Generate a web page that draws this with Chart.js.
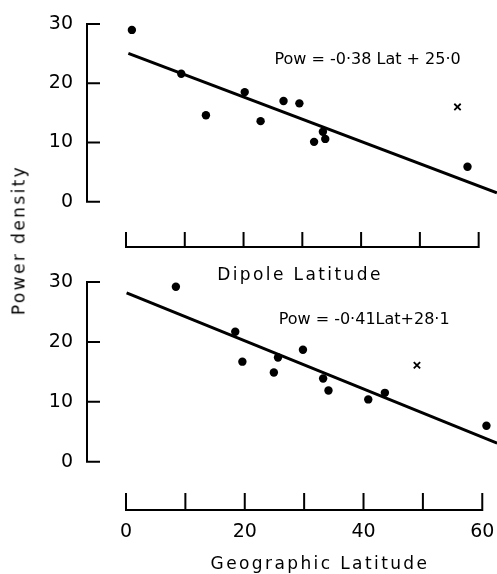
<!DOCTYPE html>
<html>
<head>
<meta charset="utf-8">
<script src="https://cdn.jsdelivr.net/npm/chart.js@4.4.1/dist/chart.umd.min.js"></script>
<style>
  html, body { margin: 0; padding: 0; background: #fff; }
  #wrap { position: relative; width: 497px; height: 574px; overflow: hidden; background: #fff; }
  #c1 { position: absolute; left: 0; top: 0; }
  #c2 { position: absolute; left: 0; top: 250px; }
  #ytitle {
    position: absolute; left: 19px; top: 240px;
    transform: translate(-50%, -50%) rotate(-90deg);
    font-family: "DejaVu Sans", sans-serif; font-size: 17px; letter-spacing: 2.4px;
    white-space: nowrap; line-height: 1; color: #000;
  }
</style>
</head>
<body>
<div id="wrap">
  <canvas id="c1" width="497" height="285"></canvas>
  <canvas id="c2" width="497" height="324"></canvas>
  <div id="ytitle">Power density</div>
</div>
<script>
// ---- data ----
const Y_TICKS = [0, 10, 20, 30];
const X_TICKS = [0, 10, 20, 30, 40, 50, 60];
const X_LABEL_TICKS = [0, 20, 40, 60];

// Top panel: Dipole latitude
const dipoleLat = [1.0, 9.4, 13.6, 20.2, 22.9, 26.8, 29.5, 32.0, 33.5, 33.9, 58.1];
const dipolePow = [29.0, 21.6, 14.6, 18.5, 13.6, 17.0, 16.6, 10.1, 11.8, 10.6, 5.9];
const dipoleOutLat = [56.4];
const dipoleOutPow = [16.0];
const dipoleFitLat = [0.4, 63.1];
const dipoleFitPow = [25.05, 1.5];
const dipoleEq = 'Pow = -0\u00B738 Lat + 25\u00B70';

// Bottom panel: Geographic latitude
const geoLat = [8.4, 18.4, 19.6, 24.9, 25.6, 29.8, 33.2, 34.1, 40.8, 43.6, 60.7];
const geoPow = [29.2, 21.7, 16.7, 14.9, 17.4, 18.7, 13.9, 11.9, 10.4, 11.5, 6.0];
const geoOutLat = [49.0];
const geoOutPow = [16.1];
const geoFitLat = [0.1, 62.5];
const geoFitPow = [28.2, 3.1];
const geoEq = 'Pow = -0\u00B741Lat+28\u00B71';

const FONT = '"DejaVu Sans", sans-serif';
const INK = '#000';

const pts = (xs, ys) => xs.map((v, i) => ({ x: v, y: ys[i] }));
const noPad = s => { s.paddingTop = 0; s.paddingBottom = 0; s.paddingLeft = 0; s.paddingRight = 0; };

const framePlugin = {
  id: 'frame',
  beforeDraw(chart) { chart.ctx.letterSpacing = '2.4px'; },
  beforeDatasetsDraw(chart) { chart.ctx.letterSpacing = '0px'; },
  afterDraw(chart) {
    const o = chart.options.plugins.frame;
    const { ctx, chartArea } = chart;
    const x = chart.scales.x, y = chart.scales.y;
    ctx.save();
    ctx.letterSpacing = '0px';
    ctx.strokeStyle = INK;
    ctx.lineWidth = 2;
    ctx.beginPath();
    // y spine + inward ticks
    const sx = o.spineX;
    ctx.moveTo(sx, y.getPixelForValue(Y_TICKS[0]) + 1);
    ctx.lineTo(sx, y.getPixelForValue(Y_TICKS[Y_TICKS.length - 1]) - 1);
    Y_TICKS.forEach(v => {
      const py = y.getPixelForValue(v);
      ctx.moveTo(sx - 1, py); ctx.lineTo(sx + o.yTickLen, py);
    });
    // x spine + upward ticks
    const by = chartArea.bottom;
    ctx.moveTo(x.getPixelForValue(X_TICKS[0]) - 1, by);
    ctx.lineTo(x.getPixelForValue(X_TICKS[X_TICKS.length - 1]) + 1, by);
    X_TICKS.forEach(v => {
      const px = x.getPixelForValue(v);
      ctx.moveTo(px, by + 1); ctx.lineTo(px, by - o.xTickLen);
    });
    ctx.stroke();
    // regression equation
    ctx.fillStyle = INK;
    ctx.font = '16px ' + FONT;
    ctx.textAlign = 'center';
    ctx.textBaseline = 'middle';
    ctx.fillText(o.eq, x.getPixelForValue(o.eqX), y.getPixelForValue(o.eqY));
    ctx.restore();
  }
};

function makeChart(id, c) {
  return new Chart(document.getElementById(id), {
    type: 'scatter',
    data: {
      datasets: [
        { data: pts(c.lat, c.pow), pointStyle: 'circle', pointRadius: 4.2, backgroundColor: INK, borderWidth: 0, clip: false },
        { data: pts(c.outLat, c.outPow), pointStyle: 'crossRot', pointRadius: 4.5, borderColor: INK, borderWidth: 1.8, clip: false },
        { data: pts(c.fitLat, c.fitPow), showLine: true, pointRadius: 0, borderColor: INK, borderWidth: 3, fill: false, clip: false }
      ]
    },
    options: {
      responsive: false, animation: false, events: [],
      layout: { autoPadding: false, padding: { top: c.padTop, right: 0, left: 0, bottom: 0 } },
      plugins: {
        legend: { display: false }, tooltip: { enabled: false },
        frame: { spineX: 87, yTickLen: 13, xTickLen: c.xTickLen, eq: c.eq, eqX: c.eqX, eqY: c.eqY }
      },
      scales: {
        x: {
          type: 'linear', min: c.xMin, max: c.xMax,
          grid: { display: false, drawTicks: false }, border: { display: false },
          ticks: { display: c.showXLabels, color: INK, font: { family: FONT, size: 19 }, padding: 11, autoSkip: false, maxRotation: 0, z: 1 },
          afterBuildTicks: s => { s.ticks = X_LABEL_TICKS.map(v => ({ value: v })); },
          afterFit: s => { s.height = c.xHeight; noPad(s); },
          title: { display: true, text: c.xTitle, color: INK, font: { family: FONT, size: 17 }, padding: { top: 0, bottom: -1 } }
        },
        y: {
          type: 'linear', min: c.yMin, max: 30,
          grid: { display: false, drawTicks: false }, border: { display: false },
          ticks: { color: INK, font: { family: FONT, size: 19 }, padding: c.yWidth - 73, z: 1 },
          afterBuildTicks: s => { s.ticks = Y_TICKS.map(v => ({ value: v })); },
          afterFit: s => { s.width = c.yWidth; noPad(s); }
        }
      }
    },
    plugins: [framePlugin]
  });
}

makeChart('c1', {
  lat: dipoleLat, pow: dipolePow, outLat: dipoleOutLat, outPow: dipoleOutPow,
  fitLat: dipoleFitLat, fitPow: dipoleFitPow, eq: dipoleEq, eqX: 41.1, eqY: 23.9,
  xMin: -3.913, xMax: 63.12, yMin: -7.65, yWidth: 103, xHeight: 38, padTop: 24,
  xTickLen: 15, showXLabels: false, xTitle: 'Dipole Latitude'
});

makeChart('c2', {
  lat: geoLat, pow: geoPow, outLat: geoOutLat, outPow: geoOutPow,
  fitLat: geoFitLat, fitPow: geoFitPow, eq: geoEq, eqX: 40.1, eqY: 23.7,
  xMin: 2.863, xMax: 62.48, yMin: -8.06, yWidth: 143, xHeight: 64, padTop: 32,
  xTickLen: 17, showXLabels: true, xTitle: 'Geographic Latitude'
});
</script>
</body>
</html>
